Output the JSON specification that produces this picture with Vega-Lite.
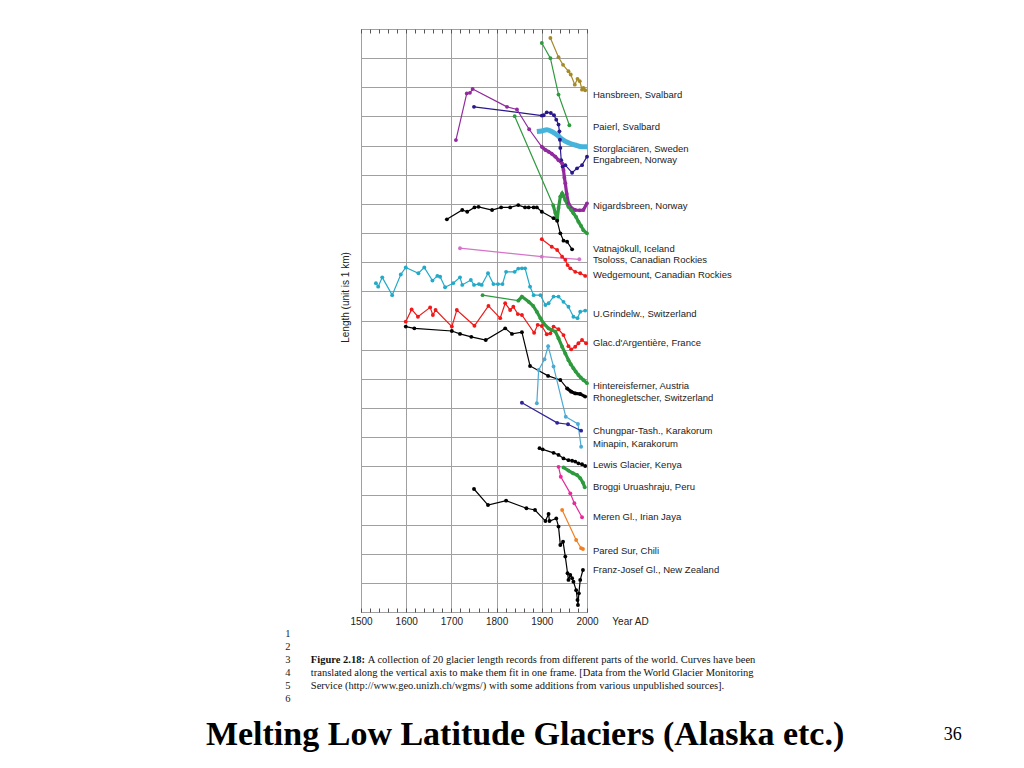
{
  "$schema": "https://vega.github.io/schema/vega-lite/v6.json",
  "width": 226,
  "height": 583,
  "autosize": {"type": "none"},
  "padding": {"left": 361, "top": 29, "right": 437, "bottom": 156},
  "background": "white",
  "config": {
    "view": {"stroke": "#555555", "strokeWidth": 1},
    "axis": {"labelFont": "Liberation Sans", "titleFont": "Liberation Sans", "labelColor": "#222222", "titleColor": "#222222", "titleFontWeight": "normal", "domain": false}
  },
  "datasets": {
    "glaciers": [
      {"g":"Hans","year":1919,"len":19.69},{"g":"Hans","year":1937,"len":19.03},{"g":"Hans","year":1947,"len":18.77},{"g":"Hans","year":1959,"len":18.55},{"g":"Hans","year":1964,"len":18.44},{"g":"Hans","year":1973,"len":18.09},{"g":"Hans","year":1979,"len":18.29},{"g":"Hans","year":1984,"len":18.21},{"g":"Hans","year":1989,"len":17.92},{"g":"Hans","year":1992,"len":17.98},{"g":"Hans","year":1996,"len":17.9},
      {"g":"Paierl","year":1900,"len":19.52},{"g":"Paierl","year":1919,"len":19.0},{"g":"Paierl","year":1937,"len":17.75},{"g":"Paierl","year":1961,"len":16.7},
      {"g":"Storg","year":1889,"len":16.48},{"g":"Storg","year":1900,"len":16.5},{"g":"Storg","year":1911,"len":16.54},{"g":"Storg","year":1922,"len":16.48},{"g":"Storg","year":1934,"len":16.36},{"g":"Storg","year":1945,"len":16.22},{"g":"Storg","year":1959,"len":16.1},{"g":"Storg","year":1974,"len":16.02},{"g":"Storg","year":1989,"len":15.96},{"g":"Storg","year":2000,"len":15.96},
      {"g":"Enga","year":1750,"len":17.33},{"g":"Enga","year":1900,"len":17.03},{"g":"Enga","year":1904,"len":17.04},{"g":"Enga","year":1911,"len":17.14},{"g":"Enga","year":1920,"len":17.12},{"g":"Enga","year":1927,"len":17.04},{"g":"Enga","year":1932,"len":16.89},{"g":"Enga","year":1937,"len":16.72},{"g":"Enga","year":1939,"len":16.49},{"g":"Enga","year":1940,"len":16.2},{"g":"Enga","year":1941,"len":15.92},{"g":"Enga","year":1943,"len":15.5},{"g":"Enga","year":1946,"len":15.28},{"g":"Enga","year":1952,"len":15.33},{"g":"Enga","year":1967,"len":15.07},{"g":"Enga","year":1978,"len":15.22},{"g":"Enga","year":1989,"len":15.33},{"g":"Enga","year":2000,"len":15.62},
      {"g":"Nigard","year":1710,"len":16.19},{"g":"Nigard","year":1734,"len":17.79},{"g":"Nigard","year":1741,"len":17.81},{"g":"Nigard","year":1747,"len":17.94},{"g":"Nigard","year":1823,"len":17.33},{"g":"Nigard","year":1845,"len":17.24},{"g":"Nigard","year":1872,"len":16.56},{"g":"Nigard","year":1900,"len":15.96},{"g":"Nigard","year":1908,"len":15.85},{"g":"Nigard","year":1915,"len":15.79},{"g":"Nigard","year":1922,"len":15.72},{"g":"Nigard","year":1930,"len":15.62},{"g":"Nigard","year":1937,"len":15.5},{"g":"Nigard","year":1945,"len":15.39},{"g":"Nigard","year":1948,"len":15.16},{"g":"Nigard","year":1950,"len":14.9},{"g":"Nigard","year":1952,"len":14.71},{"g":"Nigard","year":1955,"len":14.35},{"g":"Nigard","year":1959,"len":14.02},{"g":"Nigard","year":1966,"len":13.85},{"g":"Nigard","year":1974,"len":13.79},{"g":"Nigard","year":1984,"len":13.78},{"g":"Nigard","year":1992,"len":13.79},{"g":"Nigard","year":2000,"len":14.02},
      {"g":"GreenX","year":1840,"len":17.01},{"g":"GreenX","year":1925,"len":13.96},{"g":"GreenX","year":1930,"len":13.69},{"g":"GreenX","year":1934,"len":13.45},{"g":"GreenX","year":1937,"len":13.86},{"g":"GreenX","year":1941,"len":14.25},{"g":"GreenX","year":1945,"len":14.36},{"g":"GreenX","year":1948,"len":14.27},{"g":"GreenX","year":1952,"len":14.13},{"g":"GreenX","year":1959,"len":13.9},{"g":"GreenX","year":1965,"len":13.79},{"g":"GreenX","year":1970,"len":13.68},{"g":"GreenX","year":1976,"len":13.55},{"g":"GreenX","year":1981,"len":13.39},{"g":"GreenX","year":1987,"len":13.24},{"g":"GreenX","year":1992,"len":13.1},{"g":"GreenX","year":2000,"len":12.99},
      {"g":"Vatna","year":1690,"len":13.47},{"g":"Vatna","year":1724,"len":13.79},{"g":"Vatna","year":1735,"len":13.73},{"g":"Vatna","year":1751,"len":13.88},{"g":"Vatna","year":1760,"len":13.9},{"g":"Vatna","year":1790,"len":13.79},{"g":"Vatna","year":1810,"len":13.88},{"g":"Vatna","year":1830,"len":13.88},{"g":"Vatna","year":1848,"len":13.96},{"g":"Vatna","year":1863,"len":13.88},{"g":"Vatna","year":1871,"len":13.88},{"g":"Vatna","year":1882,"len":13.88},{"g":"Vatna","year":1889,"len":13.88},{"g":"Vatna","year":1900,"len":13.73},{"g":"Vatna","year":1926,"len":13.51},{"g":"Vatna","year":1934,"len":13.42},{"g":"Vatna","year":1941,"len":12.99},{"g":"Vatna","year":1948,"len":12.74},{"g":"Vatna","year":1956,"len":12.7},{"g":"Vatna","year":1967,"len":12.44},
      {"g":"Tsoloss","year":1719,"len":12.48},{"g":"Tsoloss","year":1900,"len":12.19},{"g":"Tsoloss","year":1983,"len":12.1},
      {"g":"Wedge","year":1900,"len":12.79},{"g":"Wedge","year":1922,"len":12.53},{"g":"Wedge","year":1934,"len":12.42},{"g":"Wedge","year":1945,"len":12.19},{"g":"Wedge","year":1952,"len":12.08},{"g":"Wedge","year":1957,"len":11.9},{"g":"Wedge","year":1963,"len":11.79},{"g":"Wedge","year":1974,"len":11.67},{"g":"Wedge","year":1985,"len":11.62},{"g":"Wedge","year":1996,"len":11.53},
      {"g":"Grindel","year":1533,"len":11.28},{"g":"Grindel","year":1538,"len":11.16},{"g":"Grindel","year":1547,"len":11.48},{"g":"Grindel","year":1569,"len":10.87},{"g":"Grindel","year":1588,"len":11.58},{"g":"Grindel","year":1599,"len":11.82},{"g":"Grindel","year":1627,"len":11.62},{"g":"Grindel","year":1640,"len":11.82},{"g":"Grindel","year":1658,"len":11.37},{"g":"Grindel","year":1669,"len":11.53},{"g":"Grindel","year":1675,"len":11.5},{"g":"Grindel","year":1686,"len":11.14},{"g":"Grindel","year":1704,"len":11.28},{"g":"Grindel","year":1719,"len":11.48},{"g":"Grindel","year":1724,"len":11.22},{"g":"Grindel","year":1743,"len":11.39},{"g":"Grindel","year":1750,"len":11.22},{"g":"Grindel","year":1761,"len":11.25},{"g":"Grindel","year":1767,"len":11.22},{"g":"Grindel","year":1781,"len":11.62},{"g":"Grindel","year":1793,"len":11.25},{"g":"Grindel","year":1803,"len":11.25},{"g":"Grindel","year":1813,"len":11.25},{"g":"Grindel","year":1821,"len":11.67},{"g":"Grindel","year":1840,"len":11.67},{"g":"Grindel","year":1848,"len":11.78},{"g":"Grindel","year":1856,"len":11.79},{"g":"Grindel","year":1863,"len":11.79},{"g":"Grindel","year":1874,"len":11.16},{"g":"Grindel","year":1882,"len":10.87},{"g":"Grindel","year":1897,"len":10.87},{"g":"Grindel","year":1908,"len":10.53},{"g":"Grindel","year":1915,"len":10.59},{"g":"Grindel","year":1926,"len":10.82},{"g":"Grindel","year":1937,"len":10.82},{"g":"Grindel","year":1948,"len":10.64},{"g":"Grindel","year":1959,"len":10.47},{"g":"Grindel","year":1970,"len":10.13},{"g":"Grindel","year":1979,"len":10.08},{"g":"Grindel","year":1985,"len":10.3},{"g":"Grindel","year":1996,"len":10.34},
      {"g":"Hinter","year":1769,"len":10.87},{"g":"Hinter","year":1848,"len":10.68},{"g":"Hinter","year":1856,"len":10.82},{"g":"Hinter","year":1871,"len":10.64},{"g":"Hinter","year":1881,"len":10.5},{"g":"Hinter","year":1889,"len":10.3},{"g":"Hinter","year":1897,"len":10.08},{"g":"Hinter","year":1904,"len":9.9},{"g":"Hinter","year":1915,"len":9.73},{"g":"Hinter","year":1922,"len":9.67},{"g":"Hinter","year":1930,"len":9.62},{"g":"Hinter","year":1937,"len":9.39},{"g":"Hinter","year":1945,"len":9.1},{"g":"Hinter","year":1952,"len":8.87},{"g":"Hinter","year":1959,"len":8.64},{"g":"Hinter","year":1964,"len":8.5},{"g":"Hinter","year":1970,"len":8.36},{"g":"Hinter","year":1975,"len":8.25},{"g":"Hinter","year":1981,"len":8.13},{"g":"Hinter","year":1986,"len":8.05},{"g":"Hinter","year":1992,"len":7.96},{"g":"Hinter","year":2000,"len":7.85},
      {"g":"Argent","year":1599,"len":9.96},{"g":"Argent","year":1612,"len":10.38},{"g":"Argent","year":1626,"len":10.13},{"g":"Argent","year":1653,"len":10.45},{"g":"Argent","year":1659,"len":10.19},{"g":"Argent","year":1665,"len":10.36},{"g":"Argent","year":1701,"len":9.79},{"g":"Argent","year":1712,"len":10.36},{"g":"Argent","year":1751,"len":9.82},{"g":"Argent","year":1782,"len":10.5},{"g":"Argent","year":1808,"len":10.08},{"g":"Argent","year":1819,"len":10.59},{"g":"Argent","year":1830,"len":10.36},{"g":"Argent","year":1837,"len":10.47},{"g":"Argent","year":1847,"len":10.22},{"g":"Argent","year":1856,"len":10.19},{"g":"Argent","year":1883,"len":9.58},{"g":"Argent","year":1891,"len":9.85},{"g":"Argent","year":1900,"len":9.81},{"g":"Argent","year":1911,"len":9.53},{"g":"Argent","year":1919,"len":9.56},{"g":"Argent","year":1926,"len":9.79},{"g":"Argent","year":1937,"len":9.7},{"g":"Argent","year":1948,"len":9.5},{"g":"Argent","year":1959,"len":9.12},{"g":"Argent","year":1965,"len":9.01},{"g":"Argent","year":1974,"len":9.1},{"g":"Argent","year":1981,"len":9.22},{"g":"Argent","year":1989,"len":9.33},{"g":"Argent","year":1998,"len":9.22},
      {"g":"Rhone","year":1599,"len":9.79},{"g":"Rhone","year":1618,"len":9.73},{"g":"Rhone","year":1701,"len":9.64},{"g":"Rhone","year":1719,"len":9.54},{"g":"Rhone","year":1744,"len":9.44},{"g":"Rhone","year":1776,"len":9.33},{"g":"Rhone","year":1819,"len":9.73},{"g":"Rhone","year":1834,"len":9.54},{"g":"Rhone","year":1856,"len":9.6},{"g":"Rhone","year":1874,"len":8.44},{"g":"Rhone","year":1914,"len":8.1},{"g":"Rhone","year":1941,"len":7.96},{"g":"Rhone","year":1956,"len":7.67},{"g":"Rhone","year":1965,"len":7.56},{"g":"Rhone","year":1974,"len":7.5},{"g":"Rhone","year":1985,"len":7.48},{"g":"Rhone","year":1996,"len":7.39},
      {"g":"Minapin","year":1889,"len":7.16},{"g":"Minapin","year":1893,"len":8.3},{"g":"Minapin","year":1906,"len":8.67},{"g":"Minapin","year":1914,"len":9.12},{"g":"Minapin","year":1926,"len":8.42},{"g":"Minapin","year":1953,"len":6.7},{"g":"Minapin","year":1980,"len":6.45},{"g":"Minapin","year":1987,"len":5.67},
      {"g":"Chungpar","year":1856,"len":7.18},{"g":"Chungpar","year":1934,"len":6.49},{"g":"Chungpar","year":1958,"len":6.44},{"g":"Chungpar","year":1987,"len":6.22},
      {"g":"Lewis","year":1895,"len":5.62},{"g":"Lewis","year":1902,"len":5.58},{"g":"Lewis","year":1926,"len":5.46},{"g":"Lewis","year":1937,"len":5.39},{"g":"Lewis","year":1948,"len":5.27},{"g":"Lewis","year":1959,"len":5.21},{"g":"Lewis","year":1967,"len":5.19},{"g":"Lewis","year":1974,"len":5.16},{"g":"Lewis","year":1981,"len":5.1},{"g":"Lewis","year":1989,"len":5.07},{"g":"Lewis","year":1996,"len":5.01},
      {"g":"Broggi","year":1948,"len":4.96},{"g":"Broggi","year":1959,"len":4.85},{"g":"Broggi","year":1969,"len":4.76},{"g":"Broggi","year":1978,"len":4.7},{"g":"Broggi","year":1985,"len":4.59},{"g":"Broggi","year":1991,"len":4.44},{"g":"Broggi","year":1995,"len":4.28},
      {"g":"Meren","year":1937,"len":4.98},{"g":"Meren","year":1942,"len":4.64},{"g":"Meren","year":1963,"len":4.07},{"g":"Meren","year":1972,"len":3.73},{"g":"Meren","year":1989,"len":3.25},
      {"g":"Pared","year":1945,"len":3.5},{"g":"Pared","year":1976,"len":2.47},{"g":"Pared","year":1987,"len":2.19},{"g":"Pared","year":1991,"len":2.16},
      {"g":"Franz","year":1750,"len":4.22},{"g":"Franz","year":1781,"len":3.67},{"g":"Franz","year":1821,"len":3.82},{"g":"Franz","year":1866,"len":3.56},{"g":"Franz","year":1885,"len":3.5},{"g":"Franz","year":1908,"len":3.12},{"g":"Franz","year":1915,"len":3.36},{"g":"Franz","year":1917,"len":3.12},{"g":"Franz","year":1932,"len":3.21},{"g":"Franz","year":1937,"len":2.93},{"g":"Franz","year":1941,"len":2.3},{"g":"Franz","year":1947,"len":2.41},{"g":"Franz","year":1952,"len":1.9},{"g":"Franz","year":1957,"len":1.33},{"g":"Franz","year":1959,"len":1.1},{"g":"Franz","year":1963,"len":1.27},{"g":"Franz","year":1967,"len":1.16},{"g":"Franz","year":1970,"len":1.04},{"g":"Franz","year":1976,"len":0.75},{"g":"Franz","year":1979,"len":0.41},{"g":"Franz","year":1980,"len":0.24},{"g":"Franz","year":1982,"len":0.64},{"g":"Franz","year":1985,"len":1.1},{"g":"Franz","year":1991,"len":1.44}
    ],
    "labels": [
      {"t":"Hansbreen, Svalbard","len":17.74},
      {"t":"Paierl, Svalbard","len":16.64},
      {"t":"Storglaciären, Sweden","len":15.88},
      {"t":"Engabreen, Norway","len":15.51},
      {"t":"Nigardsbreen, Norway","len":13.93},
      {"t":"Vatnajökull, Iceland","len":12.45},
      {"t":"Tsoloss,  Canadian Rockies","len":12.08},
      {"t":"Wedgemount, Canadian Rockies","len":11.56},
      {"t":"U.Grindelw., Switzerland","len":10.22},
      {"t":"Glac.d'Argentière, France","len":9.23},
      {"t":"Hintereisferner,  Austria","len":7.75},
      {"t":"Rhonegletscher,  Switzerland","len":7.34},
      {"t":"Chungpar-Tash.,  Karakorum","len":6.21},
      {"t":"Minapin, Karakorum","len":5.76},
      {"t":"Lewis Glacier,  Kenya","len":5.04},
      {"t":"Broggi Uruashraju, Peru","len":4.29},
      {"t":"Meren Gl.,  Irian Jaya","len":3.26},
      {"t":"Pared Sur, Chili","len":2.09},
      {"t":"Franz-Josef Gl., New Zealand","len":1.44}
    ]
  },
  "resolve": {"axis": {"x": "independent", "y": "independent"}},
  "layer": [
    {
      "data": {"name": "glaciers"},
      "transform": [{"filter": "datum.g !== 'Storg'"}],
      "mark": {"type": "line", "strokeWidth": 1.2},
      "encoding": {
        "x": {"field": "year", "type": "quantitative", "scale": {"domain": [1500, 2000], "nice": false, "zero": false},
          "axis": {"orient": "bottom", "values": [1500,1520,1540,1560,1580,1600,1620,1640,1660,1680,1700,1720,1740,1760,1780,1800,1820,1840,1860,1880,1900,1920,1940,1960,1980,2000],
            "labelExpr": "datum.value % 100 === 0 ? '' + datum.value : ''", "labelFontSize": 10, "labelPadding": 8, "labelFlush": false, "labelOverlap": false,
            "tickSize": -4, "tickColor": "#555555",
            "grid": true, "gridColor": "#a0a0a0", "gridOpacity": {"condition": {"test": "datum.value % 100 === 0", "value": 1}, "value": 0},
            "title": "Year AD", "titleFontSize": 10, "titleX": 269, "titleY": 9, "titleAlign": "center", "titleBaseline": "middle"}},
        "y": {"field": "len", "type": "quantitative", "scale": {"domain": [0, 20], "nice": false},
          "axis": {"orient": "left", "values": [0,1,2,3,4,5,6,7,8,9,10,11,12,13,14,15,16,17,18,19,20], "labels": false, "ticks": false, "grid": true, "gridColor": "#a0a0a0",
            "title": "Length (unit is 1 km)", "titleFontSize": 10, "titleX": -16, "titleY": 268, "titleAlign": "center", "titleBaseline": "middle", "titleAngle": -90}},
        "detail": {"field": "g"},
        "color": {"field": "g", "type": "nominal", "legend": null,
          "scale": {"domain": ["Hans","Paierl","Storg","Enga","Nigard","GreenX","Vatna","Tsoloss","Wedge","Grindel","Hinter","Argent","Rhone","Minapin","Chungpar","Lewis","Broggi","Meren","Pared","Franz"],
            "range": ["#a58a2a","#2e9a3e","#45b4dc","#28188c","#922a9e","#2e9a3e","#000000","#d474c8","#f01818","#22aac8","#2e9a3e","#f01818","#000000","#4aaad4","#30229a","#000000","#2e9a3e","#e8289c","#f08022","#000000"]}}
      }
    },
    {
      "data": {"name": "glaciers"},
      "transform": [{"filter": "(datum.g === 'Hinter' && datum.year >= 1848) || (datum.g === 'GreenX' && datum.year >= 1925) || (datum.g === 'Nigard' && datum.year >= 1900) || (datum.g === 'Rhone' && datum.year >= 1956) || (datum.g === 'Broggi')"}],
      "mark": {"type": "line", "strokeWidth": 3.2},
      "encoding": {
        "x": {"field": "year", "type": "quantitative", "axis": null},
        "y": {"field": "len", "type": "quantitative", "axis": null},
        "detail": {"field": "g"},
        "color": {"field": "g", "type": "nominal", "legend": null}
      }
    },
    {
      "data": {"name": "glaciers"},
      "transform": [{"filter": "datum.g === 'Storg'"}],
      "mark": {"type": "line", "strokeWidth": 5, "interpolate": "monotone"},
      "encoding": {
        "x": {"field": "year", "type": "quantitative", "axis": null},
        "y": {"field": "len", "type": "quantitative", "axis": null},
        "color": {"field": "g", "type": "nominal", "legend": null}
      }
    },
    {
      "data": {"name": "glaciers"},
      "transform": [{"filter": "datum.g !== 'Storg'"}],
      "mark": {"type": "circle", "size": 15, "opacity": 1},
      "encoding": {
        "x": {"field": "year", "type": "quantitative",
          "axis": {"orient": "top", "values": [1500,1520,1540,1560,1580,1600,1620,1640,1660,1680,1700,1720,1740,1760,1780,1800,1820,1840,1860,1880,1900,1920,1940,1960,1980,2000],
            "labels": false, "grid": false, "tickSize": -4, "tickColor": "#555555", "title": null}},
        "y": {"field": "len", "type": "quantitative", "axis": null},
        "color": {"field": "g", "type": "nominal", "legend": null}
      }
    },
    {
      "data": {"name": "labels"},
      "mark": {"type": "text", "align": "left", "baseline": "middle", "dx": 6, "font": "Liberation Sans", "fontSize": 9.5, "color": "#222222"},
      "encoding": {
        "x": {"datum": 2000, "type": "quantitative", "axis": null},
        "y": {"field": "len", "type": "quantitative", "axis": null},
        "text": {"field": "t"}
      }
    },
    {
      "data": {"values": [{"t": "Melting Low Latitude Glaciers (Alaska etc.)"}]},
      "mark": {"type": "text", "align": "center", "baseline": "middle", "font": "Liberation Serif", "fontSize": 34, "fontWeight": "bold", "color": "#000000"},
      "encoding": {"x": {"datum": 1863, "type": "quantitative", "axis": null}, "y": {"datum": -4.22, "type": "quantitative", "axis": null}, "text": {"field": "t"}}
    },
    {
      "data": {"values": [{"t": "36"}]},
      "mark": {"type": "text", "align": "center", "baseline": "middle", "font": "Liberation Serif", "fontSize": 18, "color": "#000000"},
      "encoding": {"x": {"datum": 2809, "type": "quantitative", "axis": null}, "y": {"datum": -4.22, "type": "quantitative", "axis": null}, "text": {"field": "t"}}
    },
    {
      "data": {"values": [{"n": "1", "y": -0.755}, {"n": "2", "y": -1.2}, {"n": "3", "y": -1.647}, {"n": "4", "y": -2.09}, {"n": "5", "y": -2.54}, {"n": "6", "y": -2.98}]},
      "mark": {"type": "text", "align": "center", "baseline": "middle", "font": "Liberation Serif", "fontSize": 10.5, "color": "#222222"},
      "encoding": {"x": {"datum": 1338, "type": "quantitative", "axis": null}, "y": {"field": "y", "type": "quantitative", "axis": null}, "text": {"field": "n"}}
    },
    {
      "data": {"values": [{"t": "Figure 2.18:", "y": -1.647}]},
      "mark": {"type": "text", "align": "left", "baseline": "middle", "font": "Liberation Serif", "fontSize": 10.5, "fontWeight": "bold", "color": "#111111"},
      "encoding": {"x": {"datum": 1389, "type": "quantitative", "axis": null}, "y": {"field": "y", "type": "quantitative", "axis": null}, "text": {"field": "t"}}
    },
    {
      "data": {"values": [
        {"t": "A collection of 20 glacier length records from different parts of the world. Curves have been", "x": 1515, "y": -1.647},
        {"t": "translated along the vertical axis to make them fit in one frame. [Data from the World Glacier Monitoring", "x": 1389, "y": -2.09},
        {"t": "Service (http://www.geo.unizh.ch/wgms/) with some additions from various unpublished sources].", "x": 1389, "y": -2.54}
      ]},
      "mark": {"type": "text", "align": "left", "baseline": "middle", "font": "Liberation Serif", "fontSize": 10.5, "color": "#111111"},
      "encoding": {"x": {"field": "x", "type": "quantitative", "axis": null}, "y": {"field": "y", "type": "quantitative", "axis": null}, "text": {"field": "t"}}
    }
  ]
}
